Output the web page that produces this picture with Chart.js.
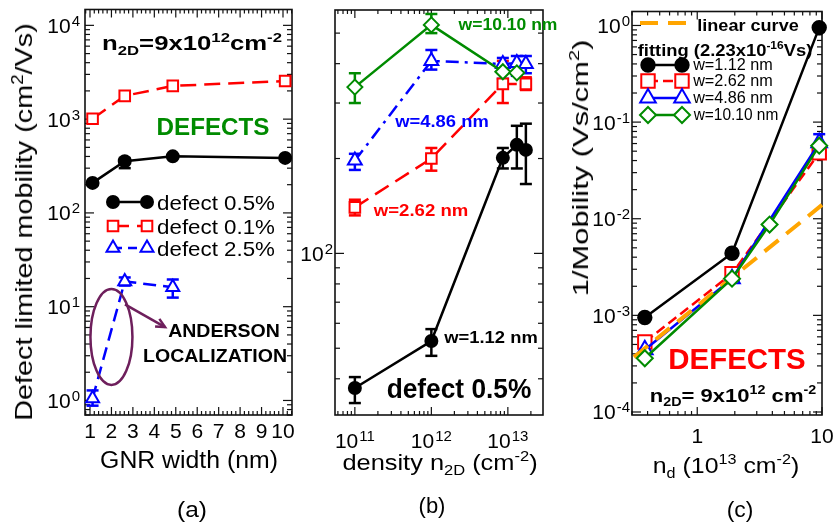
<!DOCTYPE html>
<html>
<head>
<meta charset="utf-8">
<script src="https://cdn.jsdelivr.net/npm/chart.js@4.4.1/dist/chart.umd.min.js"></script>
<style>
body { margin: 0; background: #fff; }
#wrap { position: relative; width: 835px; height: 525px; overflow: hidden; background: #fff;
        font-family: "Liberation Sans", Arial, Helvetica, sans-serif; color: #000; }
canvas { position: absolute; left: 0; top: 0; }
.t { position: absolute; white-space: nowrap; line-height: 1; transform-origin: center center; }
.t sub { font-size: 65%; line-height: 0; vertical-align: -0.35em; }
.t sup { font-size: 65%; line-height: 0; vertical-align: 0.6em; }
</style>
</head>
<body>
<div id="wrap">
  <canvas id="chartA" width="835" height="525"></canvas>
  <canvas id="chartB" width="835" height="525"></canvas>
  <canvas id="chartC" width="835" height="525"></canvas>
</div>
<script>
// ---- (a) defect limited mobility vs GNR width, n2D = 9x10^12 cm^-2
const gnrWidth = [1.12, 2.62, 4.86, 10.10];
const mobDef05 = [209, 355, 401, 386];
const mobDef05Lo = [null, 300, null, null];
const mobDef05Hi = [null, 385, null, null];
const mobDef01 = [1010, 1770, 2260, 2550];
const mobDef25 = [1.05, 18.6, 16.1, null];
const mobDef25Lo = [0.88, 16.8, 12.5, null];
const mobDef25Hi = [1.28, 20.5, 19.5, null];

// ---- (b) mobility vs carrier density, defect 0.5%
const density = [1e11, 1e12, 8.6e12, 1.31e13, 1.72e13];
const mobW112 = [37.4, 52.7, 201, 221, 213];
const mobW112Lo = [33.5, 47.3, 186, 186, 166];
const mobW112Hi = [40.5, 57.5, 216, 254, 258];
const mobW262 = [140, 200, 345, null, 345];
const mobW262Lo = [132, 183, 300, null, 330];
const mobW262Hi = [148, 216, 408, null, 362];
const mobW486 = [197, 408, 399, 402, 399];
const mobW486Lo = [184, 383, 358, 366, 373];
const mobW486Hi = [207, 442, 417, 423, 423];
const mobW1010 = [337, 531, 377, 374, null];
const mobW1010Lo = [300, 500, null, null, null];
const mobW1010Hi = [373, 575, null, null, null];

// ---- (c) 1/mobility vs defect density
const defDensity = [0.38, 1.9, 3.8, 9.5];
const invW112 = [9.5e-4, 4.4e-3, null, 0.95];
const invW262 = [5.3e-4, 2.7e-3, null, 0.048];
const invW486 = [4.4e-4, 2.4e-3, null, 0.061];
const invW486Lo = [null, null, null, 0.042];
const invW486Hi = [null, null, null, 0.075];
const invW1010 = [3.6e-4, 2.4e-3, 8.7e-3, 0.057];
const fitX = [0.311, 10];
const fitY = [3.7e-4, 0.0139];

// tick labels
const ticksAx = [1, 2, 3, 4, 5, 6, 7, 8, 9, 10];
const ticksAy = [1, 10, 100, 1000, 10000];
const ticksBx = [1e11, 1e12, 1e13];
const ticksBy = [100];
const ticksCx = [1, 10];
const ticksCy = [1e-4, 1e-3, 1e-2, 1e-1, 1];

const FONT = '"Liberation Sans", Arial, Helvetica, sans-serif';
const GREEN = '#008b00';
const ORANGE = '#ffa500';

// build {x,y} points, skipping gaps, with matching error pairs
function series(xs, ys, lo, hi) {
    const pts = [];
    const err = [];
    xs.forEach((x, i) => {
        if (ys[i] == null) return;
        pts.push({x: x, y: ys[i]});
        err.push(lo && lo[i] != null ? [lo[i], hi[i]] : null);
    });
    return {pts, err};
}

function lineSet(s, color, style, radius, opts) {
    opts = opts || {};
    return {
        data: s.pts,
        errs: s.err,
        borderColor: color,
        borderWidth: opts.width || 2.5,
        borderDash: opts.dash || [],
        pointStyle: style,
        pointRadius: radius,
        pointBorderWidth: 2,
        pointBorderColor: color,
        pointBackgroundColor: opts.filled ? color : '#fff',
        tension: 0,
        clip: false
    };
}

function logMinors(e0, e1) {
    const out = [];
    for (let e = e0; e <= e1; e++) {
        for (let m = 2; m <= 9; m++) out.push(m * Math.pow(10, e));
    }
    return out;
}

function expOf(v) { return String(Math.round(Math.log10(v))); }

// markers for the hand drawn legends
function drawMarker(ctx, style, x, y, r, color, filled) {
    ctx.beginPath();
    if (style === 'circle') {
        ctx.arc(x, y, r, 0, Math.PI * 2);
    } else if (style === 'rect') {
        const s = r * Math.SQRT1_2;
        ctx.rect(x - s, y - s, 2 * s, 2 * s);
    } else if (style === 'triangle') {
        ctx.moveTo(x, y - r);
        ctx.lineTo(x + r * 0.866, y + r * 0.5);
        ctx.lineTo(x - r * 0.866, y + r * 0.5);
        ctx.closePath();
    } else if (style === 'rectRot') {
        ctx.moveTo(x, y - r);
        ctx.lineTo(x + r, y);
        ctx.lineTo(x, y + r);
        ctx.lineTo(x - r, y);
        ctx.closePath();
    }
    ctx.fillStyle = filled ? color : '#fff';
    ctx.fill();
    ctx.lineWidth = 2;
    ctx.setLineDash([]);
    ctx.strokeStyle = color;
    ctx.stroke();
}

// "10" with a raised exponent, y is the middle of the digits
function drawPow(ctx, base, exp, x, y, align) {
    ctx.font = '21px ' + FONT;
    const wb = ctx.measureText(base).width;
    ctx.font = '15px ' + FONT;
    const we = exp ? ctx.measureText(exp).width + 1 : 0;
    const x0 = align === 'right' ? x - wb - we : x - (wb + we) / 2;
    ctx.fillStyle = '#000';
    ctx.textBaseline = 'alphabetic';
    ctx.textAlign = 'left';
    ctx.font = '21px ' + FONT;
    ctx.fillText(base, x0, y + 7.5);
    if (exp) {
        ctx.font = '15px ' + FONT;
        ctx.fillText(exp, x0 + wb + 1, y + 0.5);
    }
}

// frame, inward ticks, tick labels, error bars and legend for one panel
function makeFrame(cfg) {
    return {
        id: 'frame',
        beforeDatasetsDraw(chart) {
            const ctx = chart.ctx;
            const a = chart.chartArea;
            const xs = chart.scales.x;
            const ys = chart.scales.y;
            ctx.save();
            ctx.strokeStyle = '#111';
            ctx.lineWidth = 1.2;
            const seg = (x1, y1, x2, y2) => {
                ctx.beginPath(); ctx.moveTo(x1, y1); ctx.lineTo(x2, y2); ctx.stroke();
            };
            const xt = (v, len) => {
                if (v < xs.min || v > xs.max) return;
                const p = xs.getPixelForValue(v);
                seg(p, a.bottom, p, a.bottom - len);
                seg(p, a.top, p, a.top + len);
            };
            const yt = (v, len) => {
                if (v < ys.min || v > ys.max) return;
                const p = ys.getPixelForValue(v);
                seg(a.left, p, a.left + len, p);
                seg(a.right, p, a.right - len, p);
            };
            cfg.xMajor.forEach(v => xt(v, 8));
            cfg.xMinor.forEach(v => xt(v, 4));
            cfg.yMajor.forEach(v => yt(v, 9));
            cfg.yMinor.forEach(v => yt(v, 5));
            ctx.lineWidth = 1.6;
            ctx.strokeRect(a.left, a.top, a.right - a.left, a.bottom - a.top);

            // error bars under the markers
            chart.data.datasets.forEach(ds => {
                if (!ds.errs) return;
                ctx.strokeStyle = ds.borderColor;
                ctx.lineWidth = 2.5;
                ds.data.forEach((pt, i) => {
                    const e = ds.errs[i];
                    if (!e) return;
                    const px = xs.getPixelForValue(pt.x);
                    const lo = ys.getPixelForValue(e[0]);
                    const hi = ys.getPixelForValue(e[1]);
                    seg(px, lo, px, hi);
                    seg(px - 6, lo, px + 6, lo);
                    seg(px - 6, hi, px + 6, hi);
                });
            });
            ctx.restore();
        },
        afterDraw(chart) {
            const ctx = chart.ctx;
            const xs = chart.scales.x;
            const ys = chart.scales.y;
            ctx.save();
            cfg.xLabels.forEach(v => {
                drawPow(ctx, cfg.xLog ? '10' : String(v), cfg.xLog ? expOf(v) : '',
                    xs.getPixelForValue(v), cfg.xLabelY, 'center');
            });
            cfg.yLabels.forEach(v => {
                drawPow(ctx, '10', expOf(v), cfg.yLabelX, ys.getPixelForValue(v), 'right');
            });
            (cfg.legend || []).forEach(row => {
                ctx.strokeStyle = row.color;
                ctx.lineWidth = row.width || 2.5;
                ctx.setLineDash(row.dash || []);
                ctx.beginPath();
                ctx.moveTo(row.x1, row.y);
                ctx.lineTo(row.x2, row.y);
                ctx.stroke();
                if (row.style) {
                    drawMarker(ctx, row.style, row.x1, row.y, row.r, row.color, row.filled);
                    drawMarker(ctx, row.style, row.x2, row.y, row.r, row.color, row.filled);
                }
            });
            if (cfg.extra) cfg.extra(chart, ctx);
            ctx.restore();
        }
    };
}

function baseOptions(pad, xType, xMin, xMax, yMin, yMax) {
    return {
        responsive: false,
        animation: false,
        events: [],
        layout: {padding: pad},
        plugins: {legend: {display: false}, tooltip: {enabled: false}},
        scales: {
            x: {type: xType, min: xMin, max: xMax, display: false},
            y: {type: 'logarithmic', min: yMin, max: yMax, display: false}
        }
    };
}

// ---------------- panel (a)
const s05 = series(gnrWidth, mobDef05, mobDef05Lo, mobDef05Hi);
const s01 = series(gnrWidth, mobDef01);
const s25 = series(gnrWidth, mobDef25, mobDef25Lo, mobDef25Hi);

new Chart(document.getElementById('chartA'), {
    type: 'line',
    data: {
        datasets: [
            lineSet(s05, '#000', 'circle', 6, {filled: true}),
            lineSet(s01, '#ff0000', 'rect', 7.5, {dash: [16, 8]}),
            lineSet(s25, '#0000ff', 'triangle', 7.5, {dash: [13, 7]})
        ]
    },
    options: baseOptions({left: 85, top: 8, right: 543, bottom: 110}, 'linear', 0.767, 10.42, 0.728, 14760),
    plugins: [makeFrame({
        xMajor: ticksAx,
        xMinor: [0.8, 1.2, 1.4, 1.6, 1.8, 2.2, 2.4, 2.6, 2.8, 3.2, 3.4, 3.6, 3.8, 4.2, 4.4, 4.6, 4.8,
                 5.2, 5.4, 5.6, 5.8, 6.2, 6.4, 6.6, 6.8, 7.2, 7.4, 7.6, 7.8, 8.2, 8.4, 8.6, 8.8,
                 9.2, 9.4, 9.6, 9.8, 10.2, 10.4],
        yMajor: ticksAy,
        yMinor: logMinors(-1, 4),
        xLabels: ticksAx, xLog: false, xLabelY: 430,
        yLabels: ticksAy, yLabelX: 80,
        legend: [
            {x1: 113, x2: 147, y: 202, color: '#000', style: 'circle', r: 6, filled: true},
            {x1: 113, x2: 147, y: 226, color: '#ff0000', style: 'rect', r: 7.5, dash: [16, 8]},
            {x1: 113, x2: 147, y: 248, color: '#0000ff', style: 'triangle', r: 7.5, dash: [9, 6]}
        ],
        extra(chart, ctx) {
            // Anderson localization ellipse and arrow
            const xs = chart.scales.x;
            const ys = chart.scales.y;
            const cx = xs.getPixelForValue(2.0);
            const cy = ys.getPixelForValue(4.76);
            ctx.strokeStyle = '#6e1f5c';
            ctx.lineWidth = 2.5;
            ctx.setLineDash([]);
            ctx.beginPath();
            ctx.ellipse(cx, cy, 21, 48, 0, 0, Math.PI * 2);
            ctx.stroke();
            const x1 = xs.getPixelForValue(2.63), y1 = ys.getPixelForValue(10.6);
            const x2 = xs.getPixelForValue(4.5), y2 = ys.getPixelForValue(6.06);
            ctx.beginPath(); ctx.moveTo(x1, y1); ctx.lineTo(x2, y2); ctx.stroke();
            const ang = Math.atan2(y2 - y1, x2 - x1);
            ctx.beginPath();
            ctx.moveTo(x2 - 10 * Math.cos(ang - 0.45), y2 - 10 * Math.sin(ang - 0.45));
            ctx.lineTo(x2, y2);
            ctx.lineTo(x2 - 10 * Math.cos(ang + 0.45), y2 - 10 * Math.sin(ang + 0.45));
            ctx.stroke();
        }
    })]
});

// ---------------- panel (b)
const b112 = series(density, mobW112, mobW112Lo, mobW112Hi);
const b262 = series(density, mobW262, mobW262Lo, mobW262Hi);
const b486 = series(density, mobW486, mobW486Lo, mobW486Hi);
const b1010 = series(density, mobW1010, mobW1010Lo, mobW1010Hi);

new Chart(document.getElementById('chartB'), {
    type: 'line',
    data: {
        datasets: [
            lineSet(b1010, GREEN, 'rectRot', 7.5),
            lineSet(b486, '#0000ff', 'triangle', 8, {dash: [13, 6, 3, 6]}),
            lineSet(b262, '#ff0000', 'rect', 7.5, {dash: [16, 8]}),
            lineSet(b112, '#000', 'circle', 6, {filled: true})
        ]
    },
    options: baseOptions({left: 335, top: 9, right: 292, bottom: 110}, 'logarithmic', 5.5e10, 2.88e13, 30.7, 592),
    plugins: [makeFrame({
        xMajor: ticksBx,
        xMinor: logMinors(10, 13),
        yMajor: ticksBy,
        yMinor: logMinors(1, 2),
        xLabels: ticksBx, xLog: true, xLabelY: 440,
        yLabels: ticksBy, yLabelX: 333
    })]
});

// ---------------- panel (c)
const c112 = series(defDensity, invW112);
const c262 = series(defDensity, invW262);
const c486 = series(defDensity, invW486, invW486Lo, invW486Hi);
const c1010 = series(defDensity, invW1010);
const cFit = series(fitX, fitY);

const fitSet = lineSet(cFit, ORANGE, 'circle', 0, {dash: [18, 10], width: 4});

new Chart(document.getElementById('chartC'), {
    type: 'line',
    data: {
        datasets: [
            lineSet(c1010, GREEN, 'rectRot', 8),
            fitSet,
            lineSet(c486, '#0000ff', 'triangle', 9),
            lineSet(c262, '#ff0000', 'rect', 9.5, {dash: [10, 5]}),
            lineSet(c112, '#000', 'circle', 6.7, {filled: true})
        ]
    },
    options: baseOptions({left: 632, top: 10, right: 13, bottom: 110}, 'logarithmic', 0.311, 10, 9.31e-5, 1.395),
    plugins: [makeFrame({
        xMajor: ticksCx,
        xMinor: logMinors(-1, 0),
        yMajor: ticksCy,
        yMinor: logMinors(-5, 0),
        xLabels: ticksCx, xLog: false, xLabelY: 435,
        yLabels: ticksCy, yLabelX: 630,
        legend: [
            {x1: 640, x2: 688, y: 23, color: ORANGE, dash: [18, 10], width: 4},
            {x1: 648, x2: 682, y: 65, color: '#000', style: 'circle', r: 6.7, filled: true},
            {x1: 648, x2: 682, y: 81, color: '#ff0000', style: 'rect', r: 9.5, dash: [10, 5]},
            {x1: 648, x2: 682, y: 98, color: '#0000ff', style: 'triangle', r: 9},
            {x1: 648, x2: 682, y: 115, color: GREEN, style: 'rectRot', r: 8}
        ]
    })]
});

// ---------------- text
const wrap = document.getElementById('wrap');
function label(html, cx, cy, size, width, o) {
    o = o || {};
    const el = document.createElement('div');
    el.className = 't';
    el.innerHTML = html;
    el.style.fontSize = size + 'px';
    if (o.bold) el.style.fontWeight = 'bold';
    if (o.color) el.style.color = o.color;
    wrap.appendChild(el);
    const sx = width ? width / el.offsetWidth : 1;
    el.style.left = cx + 'px';
    el.style.top = cy + 'px';
    el.style.transform = 'translate(-50%, -50%) rotate(' + (o.rot || 0) + 'deg) scaleX(' + sx + ')';
}

// (a)
label('Defect limited mobility (cm<sup>2</sup>/Vs)', 24, 222, 24, 397, {rot: -90});
label('GNR width (nm)', 189, 460, 23, 178);
label('(a)', 192, 510, 22, 30);
label('n<sub>2D</sub>=9x10<sup>12</sup>cm<sup>-2</sup>', 192, 43, 20, 180, {bold: true});
label('DEFECTS', 213, 127, 24, 113, {bold: true, color: GREEN});
label('defect 0.5%', 216, 202, 21, 118);
label('defect 0.1%', 216, 226, 21, 118);
label('defect 2.5%', 216, 248, 21, 118);
label('ANDERSON', 224, 330, 19, 112, {bold: true});
label('LOCALIZATION', 215, 355, 19, 144, {bold: true});

// (b)
label('w=10.10 nm', 508, 24, 17, 99, {bold: true, color: GREEN});
label('w=4.86 nm', 442, 121, 17, 93, {bold: true, color: '#0000ff'});
label('w=2.62 nm', 421, 210, 17, 94, {bold: true, color: '#ff0000'});
label('w=1.12 nm', 491, 337, 17, 93, {bold: true});
label('defect 0.5%', 459, 389, 27, 145, {bold: true});
label('density n<sub>2D</sub> (cm<sup>-2</sup>)', 440, 463, 22, 195);
label('(b)', 432, 506, 22, 27);

// (c)
label('1/Mobility (Vs/cm<sup>2</sup>)', 581, 168, 22, 257, {rot: -90});
label('n<sub>d</sub> (10<sup>13</sup> cm<sup>-2</sup>)', 726, 466, 22, 147);
label('(c)', 740, 510, 22, 27);
label('linear curve', 748, 25, 17, 101, {bold: true});
label('fitting (2.23x10<sup>-16</sup>Vs)', 725, 50, 17, 174, {bold: true});
label('w=1.12 nm', 733, 65, 16, 80);
label('w=2.62 nm', 733, 81, 16, 80);
label('w=4.86 nm', 733, 98, 16, 80);
label('w=10.10 nm', 735.5, 115, 16, 85);
label('DEFECTS', 737, 359, 29, 137, {bold: true, color: '#ff0000'});
label('n<sub>2D</sub>= 9x10<sup>12</sup> cm<sup>-2</sup>', 733, 395, 19, 167, {bold: true});
</script>
</body>
</html>
